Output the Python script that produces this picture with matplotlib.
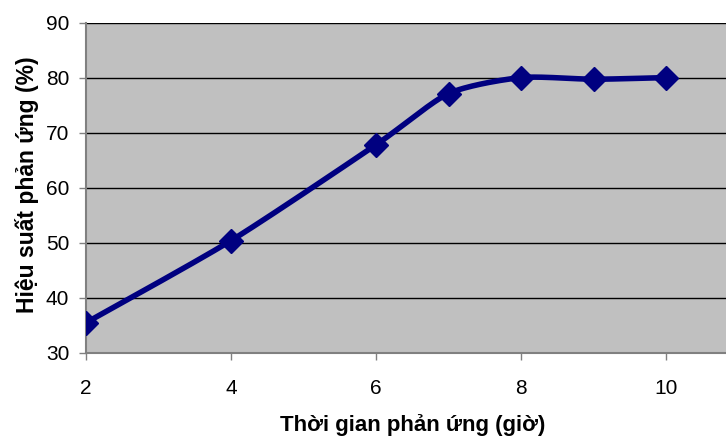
import numpy as np
import matplotlib.pyplot as plt

plt.rcParams['font.family'] = ['Liberation Sans', 'DejaVu Sans']

# Thời gian phản ứng (giờ) và hiệu suất (%)
thoi_gian = [2, 4, 6, 7, 8, 9, 10]
hieu_suat = [35.5, 50.4, 67.8, 77.1, 80.0, 79.7, 80.0]


def duong_muot(x, y, n=30, tension=0.35):
    # đường cong Bezier qua các điểm (kiểu Catmull-Rom)
    x = np.asarray(x, float)
    y = np.asarray(y, float)
    px = np.concatenate([[x[0]], x, [x[-1]]])
    py = np.concatenate([[y[0]], y, [y[-1]]])
    xs, ys = [], []
    for i in range(1, len(px) - 2):
        p0, p1, p2, p3 = [np.array([px[j], py[j]]) for j in range(i - 1, i + 3)]
        c1 = p1 + (p2 - p0) * tension / 3
        c2 = p2 - (p3 - p1) * tension / 3
        t = np.linspace(0, 1, n)[:, None]
        b = ((1 - t) ** 3) * p1 + 3 * ((1 - t) ** 2) * t * c1 + 3 * (1 - t) * t ** 2 * c2 + t ** 3 * p2
        xs.extend(b[:, 0])
        ys.extend(b[:, 1])
    return xs, ys


fig = plt.figure(figsize=(7.26, 4.38), dpi=100)
W, H = 726, 438
ax = fig.add_axes([86 / W, (H - 353) / H, (W - 86) / W, (353 - 22.5) / H])
ax.set_facecolor('#C0C0C0')

ax.set_xlim(2, 2 + (W - 86) / 72.5)
ax.set_ylim(30, 90)
ax.set_yticks(range(30, 91, 10))
ax.set_xticks([2, 4, 6, 8, 10])

ax.grid(axis='y', color='black', linewidth=1)
ax.set_axisbelow(True)

xs, ys = duong_muot(thoi_gian, hieu_suat)
ax.plot(xs, ys, color='#000080', linewidth=4, solid_capstyle='round', zorder=3)
ax.plot(thoi_gian, hieu_suat, linestyle='none', marker='D', markersize=12.5,
        color='#000080', zorder=4)

for side in ['top', 'right']:
    ax.spines[side].set_visible(False)
ax.spines['left'].set_color('#808080')
ax.spines['bottom'].set_color('#808080')
ax.spines['left'].set_linewidth(1.5)
ax.spines['bottom'].set_linewidth(1.5)

ax.tick_params(axis='both', labelsize=15, length=5, color='#808080', width=1)
ax.tick_params(axis='y', pad=7)
ax.tick_params(axis='x', pad=14)

ax.set_xlabel('Thời gian phản ứng (giờ)', fontsize=16, fontweight='bold')
ax.set_ylabel('Hiệu suất phản ứng (%)', fontsize=16.5, fontweight='bold')
ax.xaxis.set_label_coords((413 - 86) / (W - 86), -(425 - 353) / (353 - 22.5))
ax.xaxis.label.set_va('center')
ax.yaxis.set_label_coords(-(86 - 27) / (W - 86), (H - 185 - (H - 353)) / (353 - 22.5))
ax.yaxis.label.set_va('center')

fig.savefig('out.png', dpi=100)
